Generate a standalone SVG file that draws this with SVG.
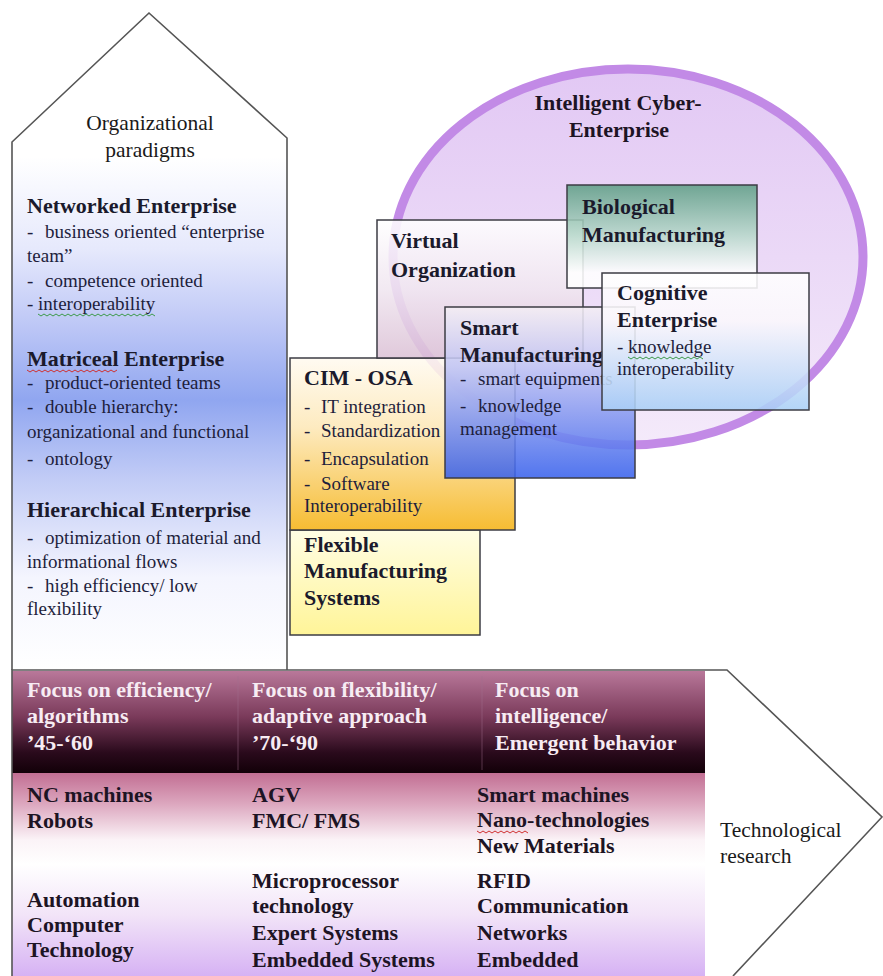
<svg xmlns="http://www.w3.org/2000/svg" width="883" height="976" viewBox="0 0 883 976">
<style>
  text { font-family: "Liberation Serif", "Times New Roman", serif; }
  .h { font-size: 22px; font-weight: bold; fill: #1b1a2c; }
  .b { font-size: 19px; fill: #1e1e3c; }
  .lbl { font-size: 21.5px; fill: #1a1a1a; }
  .hw { font-size: 22px; font-weight: bold; fill: #f7ecf3; }
  .bk { font-size: 22px; font-weight: bold; fill: #1d1424; }
  .box { stroke: #3c3c44; stroke-width: 1.5; fill-opacity: 0.88; }
  .outline { fill: none; stroke: #555; stroke-width: 1.6; }
  .sq { fill: none; stroke-width: 1; }
</style>
<defs>
  <linearGradient id="gArrow" gradientUnits="userSpaceOnUse" x1="0" y1="12" x2="0" y2="670">
    <stop offset="0" stop-color="#ffffff"/>
    <stop offset="0.22" stop-color="#ffffff"/>
    <stop offset="0.36" stop-color="#e6e9fc"/>
    <stop offset="0.48" stop-color="#bcc6f6"/>
    <stop offset="0.59" stop-color="#90a6f0"/>
    <stop offset="0.71" stop-color="#c2ccf6"/>
    <stop offset="0.86" stop-color="#f4f5fe"/>
    <stop offset="1" stop-color="#ffffff"/>
  </linearGradient>
  <linearGradient id="gHead" x1="0" y1="0" x2="0" y2="1">
    <stop offset="0" stop-color="#b9789a"/>
    <stop offset="0.45" stop-color="#7a3a5a"/>
    <stop offset="0.8" stop-color="#2a0a1c"/>
    <stop offset="1" stop-color="#120008"/>
  </linearGradient>
  <linearGradient id="gLow" x1="0" y1="0" x2="0" y2="1">
    <stop offset="0" stop-color="#c26f93"/>
    <stop offset="0.15" stop-color="#dca6be"/>
    <stop offset="0.33" stop-color="#fbf3f7"/>
    <stop offset="0.45" stop-color="#ffffff"/>
    <stop offset="0.7" stop-color="#f2e4f8"/>
    <stop offset="1" stop-color="#d6b2f4"/>
  </linearGradient>
  <linearGradient id="gEll" x1="0" y1="0" x2="0" y2="1">
    <stop offset="0" stop-color="#e2c8f4"/>
    <stop offset="1" stop-color="#f4eafa"/>
  </linearGradient>
  <linearGradient id="gVirt" x1="0" y1="0" x2="0" y2="1">
    <stop offset="0" stop-color="#ffffff"/>
    <stop offset="0.5" stop-color="#f0e6f0"/>
    <stop offset="1" stop-color="#dcc2d6"/>
  </linearGradient>
  <linearGradient id="gBio" x1="0" y1="0" x2="0" y2="1">
    <stop offset="0" stop-color="#5f9f86"/>
    <stop offset="0.5" stop-color="#b9d9cc"/>
    <stop offset="0.85" stop-color="#ffffff"/>
    <stop offset="1" stop-color="#ffffff"/>
  </linearGradient>
  <linearGradient id="gCog" x1="0" y1="0" x2="0" y2="1">
    <stop offset="0" stop-color="#ffffff"/>
    <stop offset="0.35" stop-color="#fbf8fc"/>
    <stop offset="1" stop-color="#a9cff6"/>
  </linearGradient>
  <linearGradient id="gSmart" x1="0" y1="0" x2="0" y2="1">
    <stop offset="0" stop-color="#f4eef4"/>
    <stop offset="0.35" stop-color="#c0c4f4"/>
    <stop offset="1" stop-color="#3a62ec"/>
  </linearGradient>
  <linearGradient id="gCim" x1="0" y1="0" x2="0" y2="1">
    <stop offset="0" stop-color="#fffaf0"/>
    <stop offset="0.4" stop-color="#fde8b8"/>
    <stop offset="1" stop-color="#f5b316"/>
  </linearGradient>
  <linearGradient id="gFms" x1="0" y1="0" x2="0" y2="1">
    <stop offset="0" stop-color="#fffde0"/>
    <stop offset="1" stop-color="#fff38a"/>
  </linearGradient>
</defs>

<rect x="0" y="0" width="883" height="976" fill="#ffffff"/>

<!-- Organizational paradigms arrow -->
<g id="org-paradigms">
  <path d="M12,670 L12,142 L149,13 L287,138 L287,670 Z" fill="url(#gArrow)"/>
  <path class="outline" d="M12,670 L12,142 L149,13 L287,138 L287,670"/>
  <text class="lbl" x="150" y="130" text-anchor="middle">Organizational</text>
  <text class="lbl" x="150" y="157" text-anchor="middle">paradigms</text>

  <text class="h" x="27" y="213">Networked Enterprise</text>
  <text class="b" x="27" y="238">-<tspan x="45">business oriented “enterprise</tspan></text>
  <text class="b" x="27" y="262">team”</text>
  <text class="b" x="27" y="287">-<tspan x="45">competence oriented</tspan></text>
  <text class="b" x="27" y="310">- interoperability</text>
  <polyline class="sq" stroke="#3c9a4a" points="38,314 41,316 44,314 47,316 50,314 53,316 56,314 59,316 62,314 65,316 68,314 71,316 74,314 77,316 80,314 83,316 86,314 89,316 92,314 95,316 98,314 101,316 104,314 107,316 110,314 113,316 116,314 119,316 122,314 125,316 128,314 131,316 134,314 137,316 140,314 143,316 146,314 149,316 152,314 155,316"/>

  <text class="h" x="27" y="366">Matriceal Enterprise</text>
  <polyline class="sq" stroke="#d03030" points="27,370 30,372 33,370 36,372 39,370 42,372 45,370 48,372 51,370 54,372 57,370 60,372 63,370 66,372 69,370 72,372 75,370 78,372 81,370 84,372 87,370 90,372 93,370 96,372 99,370 102,372 105,370 108,372 111,370 114,372 117,370"/>
  <text class="b" x="27" y="389">-<tspan x="45">product-oriented teams</tspan></text>
  <text class="b" x="27" y="413">-<tspan x="45">double hierarchy:</tspan></text>
  <text class="b" x="27" y="438">organizational and functional</text>
  <text class="b" x="27" y="465">-<tspan x="45">ontology</tspan></text>

  <text class="h" x="27" y="517">Hierarchical Enterprise</text>
  <text class="b" x="27" y="544">-<tspan x="45">optimization of material and</tspan></text>
  <text class="b" x="27" y="568">informational flows</text>
  <text class="b" x="27" y="592">-<tspan x="45">high efficiency/ low</tspan></text>
  <text class="b" x="27" y="615">flexibility</text>
</g>

<!-- Technological research arrow / band -->
<g id="technological-research">
  <path d="M12,976 L12,670 L727,670 L882,817 L733,976 Z" fill="#ffffff"/>
  <rect x="12" y="671" width="693" height="102" fill="url(#gHead)"/>
  <rect x="12" y="773" width="693" height="203" fill="url(#gLow)"/>
  <line x1="238" y1="676" x2="238" y2="770" stroke="#a07090" stroke-opacity="0.45" stroke-width="1"/>
  <line x1="482" y1="676" x2="482" y2="770" stroke="#a07090" stroke-opacity="0.45" stroke-width="1"/>
  <path class="outline" d="M12,976 L12,670 L727,670 L882,817 L733,976"/>

  <text class="hw" x="27" y="697">Focus on efficiency/</text>
  <text class="hw" x="27" y="723">algorithms</text>
  <text class="hw" x="27" y="750">’45-‘60</text>
  <text class="hw" x="252" y="697">Focus on flexibility/</text>
  <text class="hw" x="252" y="723">adaptive approach</text>
  <text class="hw" x="252" y="750">’70-‘90</text>
  <text class="hw" x="495" y="697">Focus on</text>
  <text class="hw" x="495" y="723">intelligence/</text>
  <text class="hw" x="495" y="750">Emergent behavior</text>

  <text class="bk" x="27" y="802">NC machines</text>
  <text class="bk" x="27" y="828">Robots</text>
  <text class="bk" x="27" y="907">Automation</text>
  <text class="bk" x="27" y="932">Computer</text>
  <text class="bk" x="27" y="957">Technology</text>

  <text class="bk" x="252" y="802">AGV</text>
  <text class="bk" x="252" y="828">FMC/ FMS</text>
  <text class="bk" x="252" y="888">Microprocessor</text>
  <text class="bk" x="252" y="913">technology</text>
  <text class="bk" x="252" y="940">Expert Systems</text>
  <text class="bk" x="252" y="967">Embedded Systems</text>

  <text class="bk" x="477" y="802">Smart machines</text>
  <text class="bk" x="477" y="827">Nano-technologies</text>
  <polyline class="sq" stroke="#d03030" points="477,831 480,833 483,831 486,833 489,831 492,833 495,831 498,833 501,831 504,833 507,831 510,833 513,831 516,833 519,831 522,833 525,831 528,833"/>
  <text class="bk" x="477" y="853">New Materials</text>
  <text class="bk" x="477" y="888">RFID</text>
  <text class="bk" x="477" y="913">Communication</text>
  <text class="bk" x="477" y="940">Networks</text>
  <text class="bk" x="477" y="967">Embedded</text>

  <text class="lbl" x="720" y="837">Technological</text>
  <text class="lbl" x="720" y="863">research</text>
</g>

<!-- Intelligent Cyber-Enterprise ellipse -->
<g id="intelligent-cyber-enterprise">
  <ellipse cx="628" cy="257" rx="235" ry="188" fill="url(#gEll)" stroke="#c28ae6" stroke-width="9"/>
  <text class="bk" x="618" y="110" text-anchor="middle" fill="#2a1a3a">Intelligent Cyber-</text>
  <text class="bk" x="619" y="137" text-anchor="middle" fill="#2a1a3a">Enterprise</text>
</g>

<g id="flexible-manufacturing-systems">
  <rect class="box" x="290" y="530" width="190" height="105" fill="url(#gFms)"/>
  <text class="h" x="304" y="552">Flexible</text>
  <text class="h" x="304" y="578">Manufacturing</text>
  <text class="h" x="304" y="605">Systems</text>
</g>

<g id="cim-osa">
  <rect class="box" x="290" y="358" width="225" height="172" fill="url(#gCim)"/>
  <text class="h" x="304" y="385">CIM - OSA</text>
  <text class="b" x="304" y="413">-<tspan x="321">IT integration</tspan></text>
  <text class="b" x="304" y="437">-<tspan x="321">Standardization</tspan></text>
  <text class="b" x="304" y="465">-<tspan x="321">Encapsulation</tspan></text>
  <text class="b" x="304" y="490">-<tspan x="321">Software</tspan></text>
  <text class="b" x="304" y="512">Interoperability</text>
</g>

<g id="virtual-organization">
  <rect class="box" x="377" y="220" width="206" height="138" fill="url(#gVirt)" fill-opacity="0.72"/>
  <text class="h" x="391" y="248">Virtual</text>
  <text class="h" x="391" y="277">Organization</text>
</g>

<g id="smart-manufacturing">
  <rect class="box" x="445" y="307" width="190" height="171" fill="url(#gSmart)"/>
  <text class="h" x="460" y="335">Smart</text>
  <text class="h" x="460" y="362">Manufacturing</text>
  <text class="b" x="460" y="385">-<tspan x="478">smart equipments</tspan></text>
  <text class="b" x="460" y="412">-<tspan x="478">knowledge</tspan></text>
  <text class="b" x="460" y="435">management</text>
</g>

<g id="biological-manufacturing">
  <rect class="box" x="567" y="185" width="190" height="103" fill="url(#gBio)"/>
  <text class="h" x="582" y="214">Biological</text>
  <text class="h" x="582" y="242">Manufacturing</text>
</g>

<g id="cognitive-enterprise">
  <rect class="box" x="602" y="273" width="207" height="137" fill="url(#gCog)"/>
  <text class="h" x="617" y="300">Cognitive</text>
  <text class="h" x="617" y="327">Enterprise</text>
  <text class="b" x="617" y="353">- knowledge</text>
  <polyline class="sq" stroke="#3c9a4a" points="628,357 631,359 634,357 637,359 640,357 643,359 646,357 649,359 652,357 655,359 658,357 661,359 664,357 667,359 670,357 673,359 676,357 679,359 682,357 685,359 688,357 691,359 694,357 697,359 700,357 703,359"/>
  <text class="b" x="617" y="375">interoperability</text>
</g>

<g id="connectors"></g>
</svg>
